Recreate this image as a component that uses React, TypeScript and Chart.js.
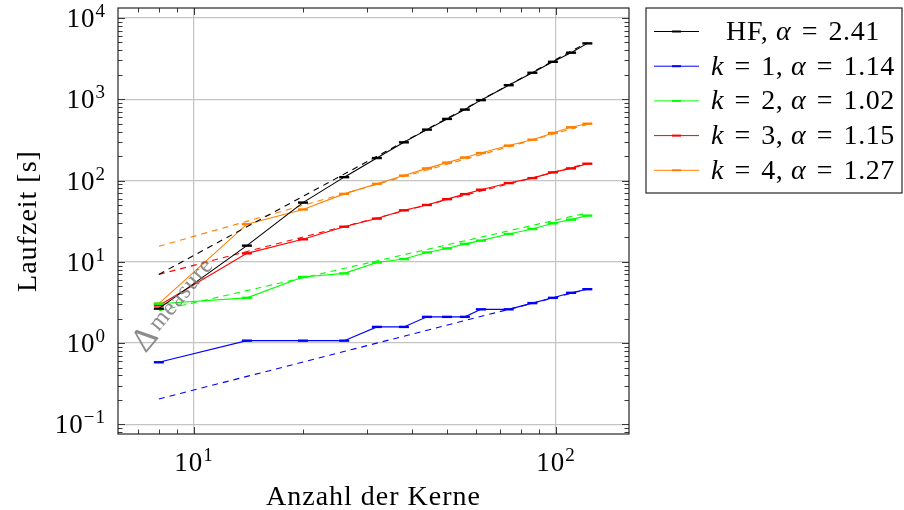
import React, { useEffect, useRef } from "react";
import { Chart, registerables } from "chart.js";

Chart.register(...registerables);

// ---------- data ----------
const CORES = [8, 14, 20, 26, 32, 38, 44, 50, 56, 62, 74, 86, 98, 110, 122];
const HF_TIMES = [2.65, 15.8, 53.5, 110, 189, 295, 423, 573, 746, 975, 1489, 2118, 2890, 3740, 4870];
const K1_TIMES = [0.58, 1.07, 1.07, 1.07, 1.58, 1.58, 2.1, 2.1, 2.1, 2.6, 2.6, 3.1, 3.6, 4.15, 4.6];
const K2_TIMES = [3.05, 3.6, 6.5, 7.2, 9.8, 10.8, 13, 14.6, 16.6, 18.2, 22, 25.3, 29.8, 33, 37];
const K3_TIMES = [2.9, 12.7, 18.9, 27, 34, 43, 50, 59, 68, 77, 93, 107, 126, 141, 161];
const K4_TIMES = [3.05, 29, 44, 68.5, 91, 115, 141, 166, 192, 218, 269, 318, 385, 452, 500];

// fitted power laws (dashed), read at the first and last core count
const FIT_CORES = [8, 122];
const HF_FIT = [7.0, 5000];
const K1_FIT = [0.205, 4.6];
const K2_FIT = [2.5, 40];
const K3_FIT = [7.0, 162];
const K4_FIT = [15.5, 490];

const LEGEND_LABELS = [
  "HF, α = 2.41",
  "k = 1, α = 1.14",
  "k = 2, α = 1.02",
  "k = 3, α = 1.15",
  "k = 4, α = 1.27",
];
const SERIES_COLORS = ["#000000", "#0000ff", "#00ff00", "#ff0000", "#ff8000"];

const X_TICK_EXPONENTS = [1, 2];
const Y_TICK_EXPONENTS = [-1, 0, 1, 2, 3, 4];
const X_MIN = 6.17;
const X_MAX = 159;
const Y_MIN = 0.076;
const Y_MAX = 13270;

const X_TITLE = "Anzahl der Kerne";
const Y_TITLE = "Laufzeit [s]";
const ANNOTATION_SYMBOL = "Δ";
const ANNOTATION_TEXT = "measure";

const FONT = '"Liberation Serif", "DejaVu Serif", serif';

function pts(xs: number[], ys: number[]) {
  return xs.map((x, i) => ({ x, y: ys[i] }));
}

function setSpacing(ctx: any, px: number) {
  if ("letterSpacing" in ctx) ctx.letterSpacing = `${px}px`;
}

function drawSci(ctx: CanvasRenderingContext2D, exp: number, x: number, y: number, align: "right" | "center") {
  const main = "10";
  const sup = exp < 0 ? "\u2212" + Math.abs(exp) : String(exp);
  setSpacing(ctx, 1);
  ctx.font = `27px ${FONT}`;
  const wm = ctx.measureText(main).width;
  ctx.font = `19px ${FONT}`;
  const ws = ctx.measureText(sup).width;
  const total = wm + ws;
  const start = align === "right" ? x - total : x - total / 2;
  ctx.textAlign = "left";
  ctx.textBaseline = "alphabetic";
  ctx.font = `27px ${FONT}`;
  ctx.fillText(main, start, y);
  ctx.font = `19px ${FONT}`;
  ctx.fillText(sup, start + wm, y - 10);
  setSpacing(ctx, 0);
}

function drawMath(ctx: CanvasRenderingContext2D, text: string, cx: number, y: number, size: number) {
  setSpacing(ctx, 0.6);
  const tokens = text.split(/(k|α|=)/).filter((t) => t !== "");
  const pieces = tokens.map((t) => {
    const italic = t === "k" || t === "α";
    const font = `${italic ? "italic " : ""}${size}px ${FONT}`;
    ctx.font = font;
    const w = ctx.measureText(t).width;
    const pad = t === "=" ? size * 0.1 : 0;
    return { t, font, w, pad };
  });
  const total = pieces.reduce((s, p) => s + p.w + 2 * p.pad, 0);
  let x = cx - total / 2;
  ctx.textAlign = "left";
  ctx.textBaseline = "alphabetic";
  for (const p of pieces) {
    x += p.pad;
    ctx.font = p.font;
    ctx.fillText(p.t, x, y);
    x += p.w + p.pad;
  }
  setSpacing(ctx, 0);
}

const decorPlugin = {
  id: "decor",
  afterDraw(chart: any) {
    const ctx: CanvasRenderingContext2D = chart.ctx;
    const area = chart.chartArea;
    const xs = chart.scales.x;
    const ys = chart.scales.y;
    ctx.save();

    // annotation
    {
      const ax = xs.getPixelForValue(7.35);
      const ay = ys.getPixelForValue(0.74);
      ctx.save();
      ctx.beginPath();
      ctx.rect(area.left, area.top, area.right - area.left, area.bottom - area.top);
      ctx.clip();
      ctx.translate(ax, ay);
      ctx.rotate((-50 * Math.PI) / 180);
      ctx.fillStyle = "rgba(120,120,120,0.85)";
      ctx.textBaseline = "alphabetic";
      ctx.textAlign = "left";
      ctx.font = `34px ${FONT}`;
      ctx.fillText(ANNOTATION_SYMBOL, 0, 0);
      const w = ctx.measureText(ANNOTATION_SYMBOL).width;
      setSpacing(ctx, 1);
      ctx.font = `24px ${FONT}`;
      ctx.fillText(ANNOTATION_TEXT, w + 3, -4);
      setSpacing(ctx, 0);
      ctx.restore();
    }

    // inward ticks
    ctx.strokeStyle = "#3a3a3a";
    ctx.lineWidth = 1;
    const majorLen = 7;
    const minorLen = 4.5;
    for (let d = Math.floor(Math.log10(X_MIN)); d <= Math.ceil(Math.log10(X_MAX)); d++) {
      for (let m = 1; m <= 9; m++) {
        const v = m * Math.pow(10, d);
        if (v < X_MIN || v > X_MAX) continue;
        const px = Math.round(xs.getPixelForValue(v)) + 0.5;
        const len = m === 1 ? majorLen : minorLen;
        ctx.beginPath();
        ctx.moveTo(px, area.bottom);
        ctx.lineTo(px, area.bottom - len);
        ctx.moveTo(px, area.top);
        ctx.lineTo(px, area.top + len);
        ctx.stroke();
      }
    }
    for (let d = Math.floor(Math.log10(Y_MIN)); d <= Math.ceil(Math.log10(Y_MAX)); d++) {
      for (let m = 1; m <= 9; m++) {
        const v = m * Math.pow(10, d);
        if (v < Y_MIN || v > Y_MAX) continue;
        const py = Math.round(ys.getPixelForValue(v)) + 0.5;
        const len = m === 1 ? majorLen : minorLen;
        ctx.beginPath();
        ctx.moveTo(area.left, py);
        ctx.lineTo(area.left + len, py);
        ctx.moveTo(area.right, py);
        ctx.lineTo(area.right - len, py);
        ctx.stroke();
      }
    }

    // frame
    ctx.strokeStyle = "#262626";
    ctx.lineWidth = 1.2;
    ctx.strokeRect(area.left, area.top, area.right - area.left, area.bottom - area.top);

    // tick labels
    ctx.fillStyle = "#000";
    for (const e of Y_TICK_EXPONENTS) {
      const py = ys.getPixelForValue(Math.pow(10, e));
      drawSci(ctx, e, area.left - 12, py + 9, "right");
    }
    for (const e of X_TICK_EXPONENTS) {
      const px = xs.getPixelForValue(Math.pow(10, e));
      drawSci(ctx, e, px, area.bottom + 37, "center");
    }

    // axis titles
    setSpacing(ctx, 1);
    ctx.font = `28px ${FONT}`;
    ctx.textAlign = "center";
    ctx.textBaseline = "alphabetic";
    ctx.fillText(X_TITLE, (area.left + area.right) / 2, area.bottom + 71);
    ctx.save();
    ctx.translate(36, (area.top + area.bottom) / 2);
    ctx.rotate(-Math.PI / 2);
    ctx.fillText(Y_TITLE, 0, 0);
    ctx.restore();
    setSpacing(ctx, 0);

    // legend
    const lx0 = area.right + 17;
    const ly0 = area.top;
    const lw = 902 - lx0;
    const lh = 185;
    ctx.fillStyle = "#fff";
    ctx.fillRect(lx0, ly0, lw, lh);
    ctx.strokeStyle = "#262626";
    ctx.lineWidth = 1.2;
    ctx.strokeRect(lx0, ly0, lw, lh);
    const rowH = 34.7;
    for (let i = 0; i < LEGEND_LABELS.length; i++) {
      const base = ly0 + 32 + i * rowH;
      const lineY = base - 8.5;
      const c = SERIES_COLORS[i];
      ctx.strokeStyle = c;
      ctx.lineWidth = 1;
      ctx.beginPath();
      ctx.moveTo(lx0 + 8, lineY);
      ctx.lineTo(lx0 + 53, lineY);
      ctx.stroke();
      ctx.lineWidth = 2;
      ctx.beginPath();
      ctx.moveTo(lx0 + 26, lineY);
      ctx.lineTo(lx0 + 35, lineY);
      ctx.stroke();
      ctx.fillStyle = "#000";
      drawMath(ctx, LEGEND_LABELS[i], lx0 + 157, base, 28);
    }
    ctx.restore();
  },
};

export default function App() {
  const ref = useRef<HTMLCanvasElement>(null);
  useEffect(() => {
    const series = [HF_TIMES, K1_TIMES, K2_TIMES, K3_TIMES, K4_TIMES];
    const fits = [HF_FIT, K1_FIT, K2_FIT, K3_FIT, K4_FIT];
    const datasets: any[] = [];
    series.forEach((s, i) => {
      datasets.push({
        label: LEGEND_LABELS[i],
        data: pts(CORES, s),
        borderColor: SERIES_COLORS[i],
        backgroundColor: SERIES_COLORS[i],
        borderWidth: 1.1,
        pointStyle: "line",
        pointRadius: 5,
        pointBorderWidth: 2.4,
        pointBorderColor: SERIES_COLORS[i],
        tension: 0,
      });
      datasets.push({
        label: LEGEND_LABELS[i] + " fit",
        data: pts(FIT_CORES, fits[i]),
        borderColor: SERIES_COLORS[i],
        borderWidth: 1.1,
        borderDash: [6, 5],
        pointRadius: 0,
        tension: 0,
      });
    });
    const chart = new Chart(ref.current as HTMLCanvasElement, {
      type: "line",
      data: { datasets },
      options: {
        responsive: false,
        animation: false,
        devicePixelRatio: 1,
        parsing: false as any,
        layout: { padding: { left: 118, top: 8, right: 904 - 629, bottom: 510 - 434 } },
        plugins: { legend: { display: false }, tooltip: { enabled: false } },
        scales: {
          x: {
            type: "logarithmic",
            min: X_MIN,
            max: X_MAX,
            afterBuildTicks: (s: any) => {
              s.ticks = X_TICK_EXPONENTS.map((e) => ({ value: Math.pow(10, e) }));
            },
            ticks: { display: false },
            grid: { color: "#c4c4c4", lineWidth: 1.2, drawTicks: false },
            border: { display: false },
          },
          y: {
            type: "logarithmic",
            min: Y_MIN,
            max: Y_MAX,
            afterBuildTicks: (s: any) => {
              s.ticks = Y_TICK_EXPONENTS.map((e) => ({ value: Math.pow(10, e) }));
            },
            ticks: { display: false },
            grid: { color: "#c4c4c4", lineWidth: 1.2, drawTicks: false },
            border: { display: false },
          },
        },
      },
      plugins: [decorPlugin],
    });
    return () => chart.destroy();
  }, []);
  return (
    <div style={{ position: "absolute", left: 0, top: 0, width: 904, height: 510, background: "#fff" }}>
      <canvas ref={ref} width={904} height={510} style={{ display: "block" }} />
    </div>
  );
}
